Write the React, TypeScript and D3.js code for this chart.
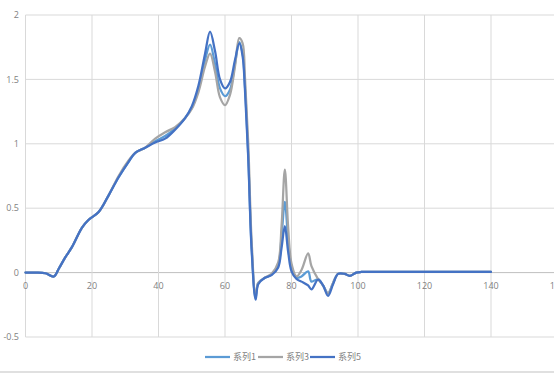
import React from "react";
import * as d3 from "d3";

// shared x positions of the sampled points
const xs = [
  0, 3, 6, 8.5, 10, 12, 14, 17, 19, 22, 25, 28, 31, 33, 36, 39, 42, 45, 48, 50,
  52, 54, 55.5, 57, 58.5, 60, 61.5, 63, 64.3, 65.3, 66, 67, 68, 69.2, 70, 72,
  74, 76, 77, 78, 79, 80, 81.5, 83, 85, 86, 88, 89.5, 91, 92.5, 94, 96, 97.5,
  99.5, 101, 110, 120, 130, 140,
];

const series1 = [
  0, 0, -0.005, -0.03, 0.03, 0.12, 0.2, 0.35, 0.41, 0.47, 0.6, 0.74, 0.86, 0.93,
  0.97, 1.02, 1.06, 1.12, 1.2, 1.28, 1.42, 1.65, 1.77, 1.62, 1.43, 1.37, 1.42,
  1.62, 1.79, 1.7, 1.45, 0.9, 0.2, -0.2, -0.08, -0.04, -0.015, 0.06, 0.28, 0.55,
  0.25, 0.05, -0.04, -0.03, 0.01, -0.07, -0.05, -0.1, -0.16, -0.08, -0.01, -0.01,
  -0.025, 0, 0.005, 0.005, 0.005, 0.005, 0.005,
];

const series3 = [
  0, 0, -0.005, -0.03, 0.03, 0.12, 0.2, 0.35, 0.41, 0.47, 0.6, 0.75, 0.87, 0.93,
  0.97, 1.04, 1.09, 1.13, 1.2, 1.27, 1.4, 1.6, 1.7, 1.56, 1.36, 1.3, 1.38, 1.6,
  1.82, 1.78, 1.52, 1.0, 0.25, -0.18, -0.08, -0.04, -0.01, 0.08, 0.36, 0.8, 0.35,
  0.07, -0.03, 0.02, 0.15, 0.05, -0.05, -0.1, -0.16, -0.08, -0.01, -0.01,
  -0.025, 0, 0.005, 0.005, 0.005, 0.005, 0.005,
];

const series5 = [
  0, 0, -0.005, -0.03, 0.03, 0.12, 0.2, 0.35, 0.41, 0.47, 0.6, 0.74, 0.86, 0.93,
  0.97, 1.01, 1.04, 1.11, 1.2, 1.29, 1.45, 1.7, 1.87, 1.72, 1.5, 1.43, 1.48,
  1.65, 1.78, 1.68, 1.42, 0.88, 0.18, -0.21, -0.09, -0.04, -0.02, 0.04, 0.19,
  0.36, 0.16, 0.01, -0.05, -0.07, -0.1, -0.13, -0.055, -0.1, -0.18, -0.09, -0.01,
  -0.01, -0.025, 0, 0.005, 0.005, 0.005, 0.005, 0.005,
];

const seriesNames = ["系列1", "系列3", "系列5"];
const seriesColors = ["#5B9BD5", "#A5A5A5", "#4472C4"];
const xTicks = [0, 20, 40, 60, 80, 100, 120, 140, 160];
const yTicks = [-0.5, 0, 0.5, 1, 1.5, 2];

export default function App() {
  const width = 554;
  const height = 375;

  const x = d3.scaleLinear().domain([0, 160]).range([25.5, 557.5]);
  const y = d3.scaleLinear().domain([-0.5, 2]).range([337, 15]);

  const line = d3
    .line<number>()
    .x((d, i) => x(xs[i]))
    .y((d) => y(d))
    .curve(d3.curveCatmullRom.alpha(0.5));

  const allSeries = [series1, series3, series5];

  const legendX = [205, 258, 310];

  return (
    <div style={{ position: "fixed", left: 0, top: 0 }}>
      <svg width={width} height={height} style={{ display: "block", background: "#fff" }}>
        {/* horizontal grid */}
        {yTicks.map((t) => (
          <line
            key={"h" + t}
            x1={x(0)}
            x2={width}
            y1={y(t)}
            y2={y(t)}
            stroke={t === 0 ? "#bfbfbf" : "#d9d9d9"}
            strokeWidth={1}
          />
        ))}
        {/* vertical grid */}
        {xTicks.map((t) => (
          <line
            key={"v" + t}
            x1={x(t)}
            x2={x(t)}
            y1={y(2)}
            y2={y(-0.5)}
            stroke="#d9d9d9"
            strokeWidth={1}
          />
        ))}
        {yTicks.map((t) => (
          <text
            key={"yl" + t}
            x={19}
            y={y(t)}
            dy="0.35em"
            textAnchor="end"
            fontFamily="'Open Sans', sans-serif"
            fontSize={9}
            fill="#7f7f7f"
          >
            {t}
          </text>
        ))}
        {xTicks.map((t) => (
          <text
            key={"xl" + t}
            x={x(t)}
            y={y(0) + 13}
            dy="0.35em"
            textAnchor="middle"
            fontFamily="'Open Sans', sans-serif"
            fontSize={9}
            fill="#7f7f7f"
          >
            {t}
          </text>
        ))}
        {allSeries.map((s, i) => (
          <path
            key={"s" + i}
            d={line(s) || ""}
            fill="none"
            stroke={seriesColors[i]}
            strokeWidth={2.25}
            strokeLinejoin="round"
            strokeLinecap="round"
          />
        ))}
        {/* legend */}
        {seriesNames.map((n, i) => (
          <g key={"lg" + i} transform={`translate(${legendX[i]}, 357)`}>
            <line x1={0} x2={25} y1={0} y2={0} stroke={seriesColors[i]} strokeWidth={2.25} />
            <text
              x={28}
              y={0}
              dy="0.35em"
              fontFamily="'Noto Sans CJK SC', sans-serif"
              fontSize={9}
              fill="#7f7f7f"
            >
              {n}
            </text>
          </g>
        ))}
        <line x1={0} x2={width} y1={372} y2={372} stroke="#e0e0e0" strokeWidth={2} />
      </svg>
    </div>
  );
}
